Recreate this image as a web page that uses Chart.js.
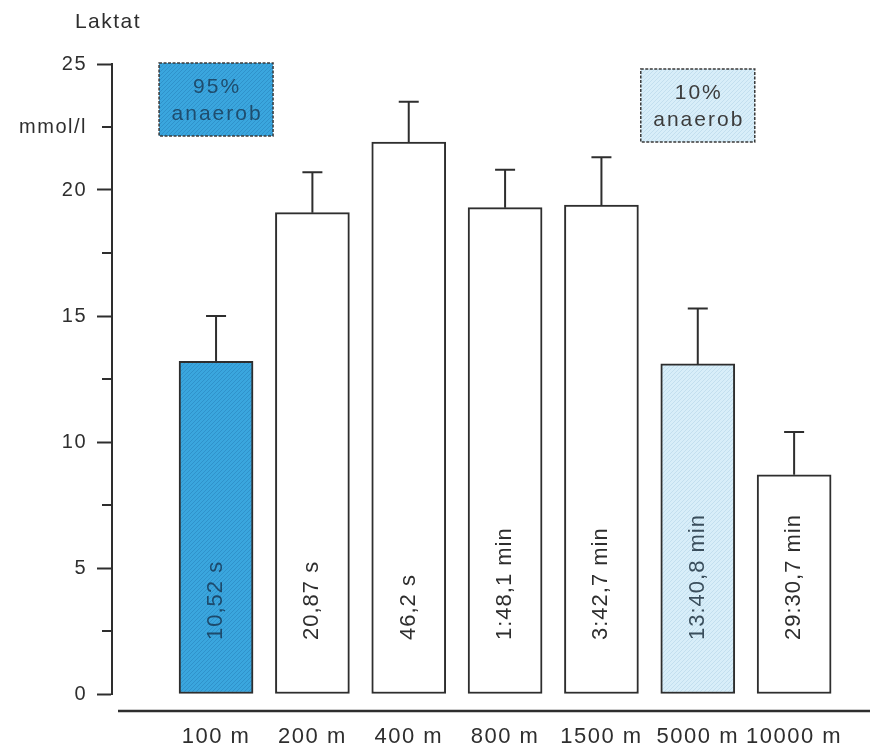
<!DOCTYPE html>
<html>
<head>
<meta charset="utf-8">
<script src="https://cdn.jsdelivr.net/npm/chart.js@4/dist/chart.umd.min.js"></script>
<style>
  html, body { margin: 0; padding: 0; background: #ffffff; }
  #wrap { width: 870px; height: 755px; }
</style>
</head>
<body>
<div id="wrap"><canvas id="c" width="870" height="755"></canvas></div>
<script>
// Blood lactate after maximal runs over different distances
const distances = ['100 m', '200 m', '400 m', '800 m', '1500 m', '5000 m', '10000 m'];
const lactate   = [13.2, 19.1, 21.9, 19.3, 19.4, 13.1, 8.7];   // mmol/l, mean
const lactateSD = [1.8, 1.6, 1.6, 1.5, 1.9, 2.2, 1.7];         // mmol/l, upper error bar
const runTimes  = ['10,52 s', '20,87 s', '46,2 s', '1:48,1 min', '3:42,7 min', '13:40,8 min', '29:30,7 min'];
const yTickStep = 2.5;
const yMajorStep = 5;
const yUnitTick = 22.5;

const INK = '#2e2e2e';
const BLUE = '#3aa6de';
const LIGHT_BLUE = '#d8eef9';
const FONT = '"Liberation Sans", Arial, Helvetica, sans-serif';

function hatch(base, line) {
  const p = document.createElement('canvas');
  p.width = 4; p.height = 4;
  const g = p.getContext('2d');
  g.fillStyle = base; g.fillRect(0, 0, 4, 4);
  g.strokeStyle = line; g.lineWidth = 1;
  g.beginPath(); g.moveTo(0, 4); g.lineTo(4, 0); g.stroke();
  return g.createPattern(p, 'repeat');
}
const blueFill = hatch(BLUE, 'rgba(25,100,160,0.30)');
const lightFill = hatch(LIGHT_BLUE, 'rgba(130,180,210,0.25)');
const barFills = [blueFill, '#ffffff', '#ffffff', '#ffffff', '#ffffff', lightFill, '#ffffff'];
const labelInk = ['#1d4a6c', INK, INK, INK, INK, '#3a4e5c', INK];

const decorations = {
  id: 'decorations',
  beforeDraw(chart) {
    chart.ctx.letterSpacing = '1.5px';
  },
  afterDatasetsDraw(chart) {
    const ctx = chart.ctx;
    const xs = chart.scales.x, ys = chart.scales.y;
    const meta = chart.getDatasetMeta(0);
    const area = chart.chartArea;
    ctx.save();

    // shorter minor ticks on the value axis
    ctx.strokeStyle = INK; ctx.lineWidth = 2;
    ys.ticks.forEach(t => {
      if (t.value % yMajorStep === 0) return;
      const y = Math.round(ys.getPixelForValue(t.value));
      ctx.beginPath();
      ctx.moveTo(area.left - 10, y); ctx.lineTo(area.left, y);
      ctx.stroke();
    });

    // upward error bars
    meta.data.forEach((bar, i) => {
      const top = ys.getPixelForValue(lactate[i] + lactateSD[i]);
      ctx.beginPath();
      ctx.moveTo(bar.x, bar.y); ctx.lineTo(bar.x, top);
      ctx.moveTo(bar.x - 10, top); ctx.lineTo(bar.x + 10, top);
      ctx.stroke();
    });

    // running times written upward inside the bars
    ctx.letterSpacing = '1px';
    ctx.font = '22px ' + FONT;
    ctx.textAlign = 'left'; ctx.textBaseline = 'middle';
    const base = ys.getPixelForValue(0);
    meta.data.forEach((bar, i) => {
      ctx.save();
      ctx.translate(bar.x, base - 54);
      ctx.rotate(-Math.PI / 2);
      ctx.fillStyle = labelInk[i];
      ctx.fillText(runTimes[i], 0, 0);
      ctx.restore();
    });

    // baseline under the bars
    ctx.beginPath();
    ctx.moveTo(area.left + 6, base + 17);
    ctx.lineTo(chart.width, base + 17);
    ctx.lineWidth = 2.5; ctx.strokeStyle = INK; ctx.stroke();

    // axis caption
    ctx.letterSpacing = '1.5px';
    ctx.fillStyle = INK;
    ctx.font = '21px ' + FONT;
    ctx.textAlign = 'center';
    ctx.fillText('Laktat', area.left - 4, 22);

    // share of anaerobic energy supply
    const boxes = [
      { i: 0, fill: blueFill, ink: '#1f4d6e', lines: ['95%', 'anaerob'], dy: 0 },
      { i: 5, fill: lightFill, ink: '#3c3c3c', lines: ['10%', 'anaerob'], dy: 6 }
    ];
    ctx.letterSpacing = '2px';
    boxes.forEach(b => {
      const cx = xs.getPixelForValue(b.i);
      const top = ys.getPixelForValue(25) + b.dy - 1;
      const w = 114, h = 73;
      ctx.fillStyle = b.fill;
      ctx.fillRect(cx - w / 2, top, w, h);
      ctx.strokeStyle = '#3a3a3a'; ctx.lineWidth = 1.5;
      ctx.setLineDash([3, 1.5]);
      ctx.strokeRect(cx - w / 2, top, w, h);
      ctx.setLineDash([]);
      ctx.fillStyle = b.ink;
      ctx.font = '21px ' + FONT;
      ctx.textAlign = 'center'; ctx.textBaseline = 'middle';
      ctx.fillText(b.lines[0], cx + 1, top + 24);
      ctx.fillText(b.lines[1], cx + 1, top + 51);
    });
    ctx.restore();
  }
};

new Chart(document.getElementById('c'), {
  type: 'bar',
  data: {
    datasets: [{
      data: lactate.map((v, i) => ({ x: i, y: v })),
      backgroundColor: barFills,
      borderColor: INK,
      borderWidth: 2,
      borderSkipped: false,
      barThickness: 74
    }]
  },
  options: {
    responsive: false,
    animation: false,
    devicePixelRatio: 1,
    layout: { padding: { top: 64, right: 20, left: 0, bottom: 0 } },
    plugins: { legend: { display: false }, tooltip: { enabled: false } },
    scales: {
      x: {
        type: 'linear',
        offset: false,
        min: -1.08, max: 6.58,
        afterBuildTicks: s => { s.ticks = distances.map((_, i) => ({ value: i })); },
        afterFit: s => { s.height = 61; },
        grid: { display: false, offset: false },
        border: { display: false },
        ticks: {
          callback: v => distances[v] ?? '',
          font: { family: FONT, size: 22 },
          color: INK, padding: 22, maxRotation: 0, autoSkip: false
        }
      },
      y: {
        min: 0, max: 25,
        afterFit: s => { s.width = 112; },
        grid: {
          drawOnChartArea: false, drawTicks: true, tickLength: 15, tickWidth: 2,
          tickColor: c => (c.tick && c.tick.value % yMajorStep === 0 ? INK : 'rgba(0,0,0,0)')
        },
        border: { display: true, color: INK, width: 2 },
        ticks: {
          stepSize: yTickStep,
          callback: v => (v === yUnitTick ? 'mmol/l' : (v % yMajorStep === 0 ? String(v) : '')),
          font: { family: FONT, size: 20 },
          color: INK, padding: 10
        }
      }
    }
  },
  plugins: [decorations]
});
</script>
</body>
</html>
